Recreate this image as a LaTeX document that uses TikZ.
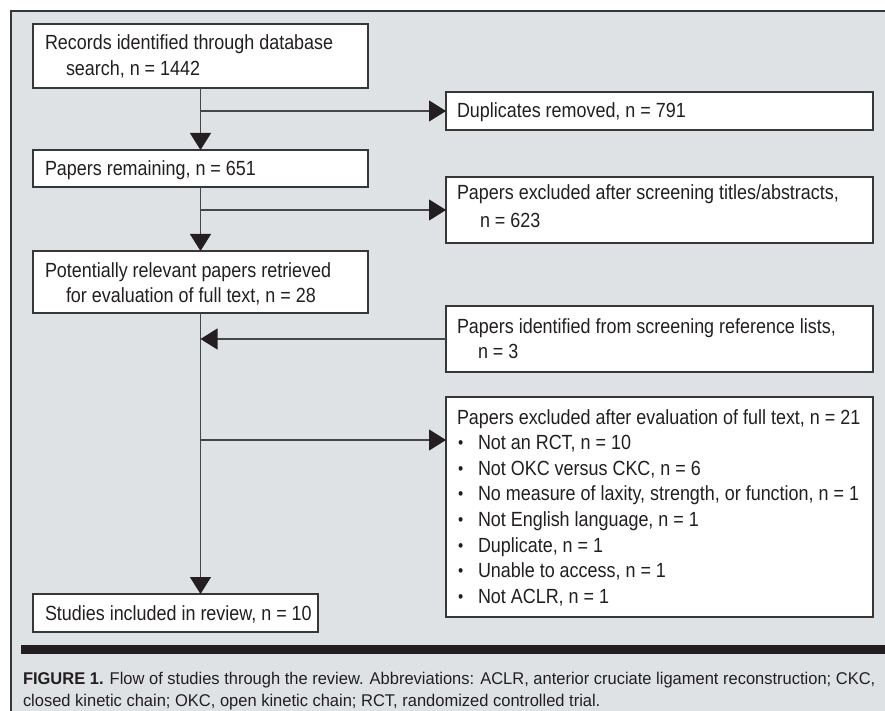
\documentclass[tikz,border=0pt]{standalone}
\usepackage{fontspec}
\setmainfont{Liberation Sans}[FakeStretch=0.875]
\newfontfamily\capfont{Liberation Sans}[FakeStretch=0.97]
\usetikzlibrary{arrows.meta}
\definecolor{bggrey}{RGB}{223,226,229}
\definecolor{boxline}{RGB}{55,55,55}
\definecolor{connline}{RGB}{70,70,70}
\definecolor{inkblack}{RGB}{35,31,32}
\begin{document}
\begin{tikzpicture}[x=1pt,y=-1pt,
  box/.style={draw=boxline, line width=1.3pt, fill=white, inner sep=0pt, outer sep=0pt, anchor=north west},
  txt/.style={anchor=base west, inner sep=0pt, outer sep=0pt, text=inkblack, font=\fontsize{20.5}{25}\selectfont},
  bul/.style={anchor=base west, inner sep=0pt, outer sep=0pt, text=inkblack, font=\fontsize{17}{25}\selectfont},
  captxt/.style={anchor=base west, inner sep=0pt, outer sep=0pt, text=inkblack, font=\capfont\fontsize{17}{21}\selectfont},
  conn/.style={draw=connline, line width=1.2pt},
  arr/.style={conn, -{Triangle[length=17pt,width=21pt,fill=inkblack,color=inkblack]}}
]
\useasboundingbox (0,0) rectangle (885,711);
\fill[white] (0,0) rectangle (885,711);
\fill[bggrey] (11,11) rectangle (885,711);
\draw[boxline, line width=1.4pt] (11,711) -- (11,11) -- (885,11);

% boxes
\node[box, minimum width=335pt, minimum height=64pt] (b1) at (33,24) {};
\node[box, minimum width=427pt, minimum height=38pt] (d) at (446,92) {};
\node[box, minimum width=335pt, minimum height=37pt] (b2) at (33,150) {};
\node[box, minimum width=427pt, minimum height=66pt] (e1) at (446,177) {};
\node[box, minimum width=335pt, minimum height=62pt] (b3) at (33,251) {};
\node[box, minimum width=427pt, minimum height=66pt] (id) at (446,306) {};
\node[box, minimum width=427pt, minimum height=220pt] (e2) at (446,397) {};
\node[box, minimum width=285pt, minimum height=38pt] (st) at (33,594) {};
\coordinate (e2in) at ([yshift=-43pt]e2.north west);

% texts
\node[txt] (t1a) at (45,50) {Records identified through database};
\node[txt] (t1b) at (66,76) {search, n = 1442};
\node[txt] (td) at (457,118) {Duplicates removed, n = 791};
\node[txt] (t2) at (45,176) {Papers remaining, n = 651};
\node[txt] (te1a) at (457,200) {Papers excluded after screening titles/abstracts,};
\node[txt] (te1b) at (480,228) {n = 623};
\node[txt] (t3a) at (45,277) {Potentially relevant papers retrieved};
\node[txt] (t3b) at (66,302) {for evaluation of full text, n = 28};
\node[txt] (tida) at (457,333) {Papers identified from screening reference lists,};
\node[txt] (tidb) at (478,358) {n = 3};
\node[txt] (te2) at (457,424) {Papers excluded after evaluation of full text, n = 21};
\foreach \yy/\tt [count=\i] in {449/{Not an RCT, n = 10},
                      475/{Not OKC versus CKC, n = 6},
                      500/{No measure of laxity, strength, or function, n = 1},
                      526/{Not English language, n = 1},
                      552/{Duplicate, n = 1},
                      577/{Unable to access, n = 1},
                      603/{Not ACLR, n = 1}}{
  \node[bul] (bu\i) at (458,\yy-1) {•};
  \node[txt] (bt\i) at (478,\yy) {\tt};
}
\node[txt] (tst) at (45,620) {Studies included in review, n = 10};

% connectors
\draw[arr] (b1.south) -- (b2.north);
\draw[arr] (b1.south |- d.west) -- (d.west);
\draw[arr] (b2.south) -- (b3.north);
\draw[arr] (b2.south |- e1.west) -- (e1.west);
\draw[arr] (b3.south) -- (b3.south |- st.north);
\draw[arr] (id.west) -- (b3.south |- id.west);
\draw[arr] (b3.south |- e2in) -- (e2in);

% caption bar and text
\fill[inkblack] (21,645) rectangle (885,654);
\node[captxt] (c1) at (23,684) {\textbf{FIGURE 1.} Flow of studies through the review. Abbreviations: ACLR, anterior cruciate ligament reconstruction; CKC,};
\node[captxt] (c2) at (23,706) {closed kinetic chain; OKC, open kinetic chain; RCT, randomized controlled trial.};
\end{tikzpicture}
\end{document}
